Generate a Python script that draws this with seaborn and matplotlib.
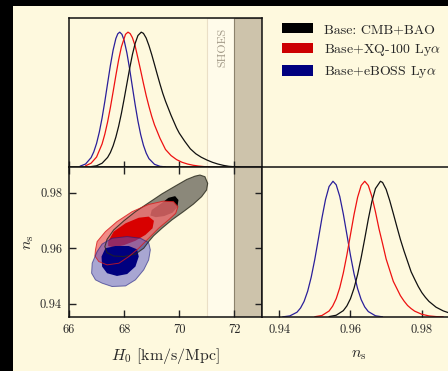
import matplotlib
matplotlib.use("Agg")
import matplotlib.pyplot as plt
from matplotlib.patches import Rectangle
import seaborn as sns

# ---------------- data ----------------
labels = ["Base: CMB+BAO", r"Base+XQ-100 Ly$\alpha$", r"Base+eBOSS Ly$\alpha$"]
h0_ticks = [66, 68, 70, 72]
ns_ticks = [0.94, 0.96, 0.98]
h0_ticklabels = ["66", "68", "70", "72"]
ns_ticklabels = ["0.94", "0.96", "0.98"]

# 1D posteriors H0
h0_black_x = [66.8, 67.0, 67.2, 67.4, 67.5, 67.6, 67.7, 67.8, 67.9, 68.0, 68.1, 68.2, 68.3, 68.4, 68.5,
              68.62, 68.7, 68.8, 68.9, 69.0, 69.1, 69.2, 69.3, 69.4, 69.5, 69.6, 69.7, 69.8, 69.9, 70.0,
              70.2, 70.4, 70.6, 70.8, 71.0, 71.2, 71.4, 71.6, 71.8, 72.0, 72.2]
h0_black_y = [0.003, 0.009, 0.028, 0.071, 0.107, 0.157, 0.222, 0.302, 0.397, 0.505, 0.618, 0.731, 0.834,
              0.917, 0.975, 1.0, 0.991, 0.956, 0.900, 0.834, 0.761, 0.687, 0.615, 0.547, 0.488, 0.436,
              0.384, 0.337, 0.29, 0.251, 0.19, 0.135, 0.098, 0.072, 0.052, 0.035, 0.022, 0.012, 0.005,
              0.002, 0.0]
h0_red_x = [66.6, 66.8, 67.0, 67.2, 67.3, 67.4, 67.5, 67.6, 67.7, 67.8, 67.9, 68.05, 68.14, 68.22, 68.3,
            68.4, 68.5, 68.6, 68.7, 68.8, 68.9, 69.0, 69.1, 69.3, 69.5, 69.7, 69.9, 70.1, 70.3, 70.5,
            70.7, 70.9, 71.1]
h0_red_y = [0.009, 0.028, 0.074, 0.171, 0.244, 0.334, 0.44, 0.558, 0.679, 0.794, 0.891, 0.984, 1.0, 0.989,
            0.959, 0.897, 0.807, 0.715, 0.62, 0.529, 0.449, 0.376, 0.313, 0.213, 0.13, 0.085, 0.055,
            0.035, 0.022, 0.013, 0.007, 0.003, 0.001]
h0_blue_x = [66.4, 66.6, 66.8, 66.9, 67.0, 67.1, 67.2, 67.3, 67.4, 67.5, 67.6, 67.7, 67.77, 67.84, 67.92,
             68.0, 68.1, 68.2, 68.3, 68.4, 68.5, 68.6, 68.7, 68.8, 68.9, 69.1, 69.3, 69.5]
h0_blue_y = [0.006, 0.022, 0.069, 0.113, 0.175, 0.259, 0.364, 0.487, 0.62, 0.752, 0.867, 0.953, 0.988,
             1.0, 0.984, 0.939, 0.846, 0.726, 0.593, 0.461, 0.341, 0.240, 0.161, 0.103, 0.062, 0.02,
             0.005, 0.001]

# 1D posteriors ns
ns_black_x = [0.954, 0.956, 0.958, 0.959, 0.960, 0.961, 0.962, 0.963, 0.964, 0.965, 0.966, 0.967, 0.9684,
              0.969, 0.970, 0.971, 0.972, 0.973, 0.974, 0.975, 0.976, 0.977, 0.978, 0.979, 0.980, 0.981,
              0.982, 0.984, 0.986, 0.988, 0.990]
ns_black_y = [0.003, 0.013, 0.047, 0.082, 0.135, 0.212, 0.313, 0.438, 0.577, 0.721, 0.85, 0.946, 1.0,
              0.991, 0.94, 0.858, 0.763, 0.666, 0.571, 0.487, 0.41, 0.333, 0.278, 0.225, 0.18, 0.145,
              0.115, 0.072, 0.045, 0.027, 0.016]
ns_red_x = [0.950, 0.952, 0.954, 0.955, 0.956, 0.957, 0.958, 0.959, 0.960, 0.961, 0.962, 0.963, 0.964,
            0.965, 0.966, 0.967, 0.968, 0.969, 0.970, 0.971, 0.972, 0.973, 0.974, 0.975, 0.976, 0.977,
            0.978, 0.980, 0.982, 0.984, 0.986]
ns_red_y = [0.002, 0.011, 0.044, 0.080, 0.135, 0.216, 0.325, 0.458, 0.607, 0.755, 0.882, 0.969, 1.0,
            0.969, 0.888, 0.775, 0.649, 0.54, 0.427, 0.345, 0.263, 0.21, 0.157, 0.118, 0.085, 0.062,
            0.043, 0.02, 0.008, 0.003, 0.001]
ns_blue_x = [0.941, 0.943, 0.945, 0.946, 0.947, 0.948, 0.949, 0.950, 0.951, 0.952, 0.953, 0.954, 0.9551,
             0.956, 0.957, 0.958, 0.959, 0.960, 0.961, 0.962, 0.963, 0.964, 0.965, 0.967, 0.969]
ns_blue_y = [0.001, 0.008, 0.035, 0.066, 0.115, 0.19, 0.294, 0.425, 0.575, 0.729, 0.865, 0.961, 1.0,
             0.974, 0.888, 0.758, 0.607, 0.454, 0.318, 0.209, 0.128, 0.074, 0.04, 0.009, 0.001]

# 2D contours (H0, ns)
black2_h0 = [70.75, 70.93, 71.03, 70.99, 70.81, 70.51, 70.15, 69.73, 69.37, 69.07, 68.89, 68.71, 68.41,
             67.99, 67.62, 67.38, 67.30, 67.38, 67.62, 67.99, 68.41, 68.89, 69.37, 69.85, 70.27, 70.57]
black2_ns = [0.9864, 0.9858, 0.9834, 0.9810, 0.9786, 0.9759, 0.9732, 0.9702, 0.9672, 0.9645, 0.9624,
             0.9600, 0.9579, 0.9570, 0.9572, 0.9584, 0.9606, 0.9632, 0.9666, 0.9699, 0.9732, 0.9764,
             0.9796, 0.9824, 0.9848, 0.9860]
black1_h0 = [69.0, 69.35, 69.61, 69.85, 69.97, 69.93, 69.75, 69.45, 69.15, 68.95]
black1_ns = [0.9738, 0.9762, 0.9782, 0.9788, 0.9774, 0.9748, 0.9728, 0.9716, 0.9712, 0.9718]
red2_h0 = [66.94, 66.96, 67.02, 67.32, 67.74, 68.29, 68.89, 69.43, 69.79, 69.95, 69.87, 69.61, 69.25,
           68.89, 68.53, 68.17, 67.81, 67.38, 67.08]
red2_ns = [0.9572, 0.9594, 0.9624, 0.9660, 0.9696, 0.9732, 0.9758, 0.9770, 0.9768, 0.9750, 0.9726,
           0.9702, 0.9672, 0.9636, 0.9600, 0.9570, 0.9546, 0.9540, 0.9552]
red1_h0 = [67.42, 67.62, 68.05, 68.53, 68.89, 69.08, 69.03, 68.77, 68.41, 67.99, 67.62, 67.42]
red1_ns = [0.9624, 0.9660, 0.9690, 0.9710, 0.9714, 0.9699, 0.9672, 0.9648, 0.9627, 0.9611, 0.9603, 0.9608]
blue2_h0 = [67.56, 68.11, 68.59, 68.89, 68.95, 68.89, 68.71, 68.41, 68.05, 67.56, 67.20, 66.96, 66.82,
            66.84, 67.02, 67.20]
blue2_ns = [0.9636, 0.9642, 0.9636, 0.9620, 0.9594, 0.9558, 0.9522, 0.9486, 0.9464, 0.9462, 0.9474,
            0.9486, 0.9510, 0.9546, 0.9588, 0.9615]
blue1_h0 = [67.32, 67.68, 68.17, 68.47, 68.53, 68.41, 68.11, 67.74, 67.38, 67.20, 67.18]
blue1_ns = [0.9600, 0.9608, 0.9608, 0.9596, 0.9570, 0.9534, 0.9507, 0.9500, 0.9510, 0.9534, 0.9570]

shoes_band = [71.0, 72.0, 73.0]

# ---------------- style ----------------
sns.set_style("ticks")
plt.rcParams["font.family"] = ["cmr10", "DejaVu Serif"]
plt.rcParams["mathtext.fontset"] = "cm"
plt.rcParams["axes.formatter.use_mathtext"] = True

CREAM = "#fef9de"
h0_lim = (66, 73)
ns_lim = (0.9352, 0.9893)
ytop = 1.105

fig = plt.figure(figsize=(4.48, 3.71), dpi=100, facecolor="black")
fig.patches.append(Rectangle((13 / 448, 0), 1, 1 - 6 / 371, transform=fig.transFigure,
                             facecolor=CREAM, edgecolor="none", zorder=-10))

W, H = 448.0, 371.0
def pos(x0, y0, x1, y1):
    return [x0 / W, 1 - y1 / H, (x1 - x0) / W, (y1 - y0) / H]

ax_top = fig.add_axes(pos(69, 18, 262, 167))
ax_2d = fig.add_axes(pos(69, 167, 262, 317))
ax_ns = fig.add_axes(pos(262, 167, 455, 317))

for ax in (ax_top, ax_2d, ax_ns):
    ax.set_facecolor(CREAM)
    for s in ax.spines.values():
        s.set_linewidth(1.1)
        s.set_color("#111111")
        s.set_visible(True)

# SHOES bands
for ax in (ax_top, ax_2d):
    ax.axvspan(shoes_band[0], shoes_band[1], facecolor="#fffbea", edgecolor="#eadfc6", lw=0.8, zorder=0)
    ax.axvspan(shoes_band[1], shoes_band[2], facecolor="#cdc3ab", edgecolor="#8c826c", lw=0.8, zorder=0)

# top 1D H0
for xs, ys, c in [(h0_blue_x, h0_blue_y, "#2a1f9a"), (h0_red_x, h0_red_y, "#ee1111"),
                  (h0_black_x, h0_black_y, "#111111")]:
    sns.lineplot(x=xs, y=ys, ax=ax_top, color=c, lw=0.9, sort=False)
ax_top.set_xlim(*h0_lim)
ax_top.set_ylim(0, ytop)
ax_top.set_yticks([])
ax_top.set_xticks(h0_ticks)
ax_top.set_xticklabels([])
ax_top.tick_params(axis="x", direction="inout", length=9, width=1.0, color="#222222")
ax_top.text(71.56, 0.805, "SHOES", rotation=90, ha="center", va="center", fontsize=8.5,
            color="#a39a88", transform=ax_top.get_xaxis_transform())

# 2D contours
ax_2d.fill(black2_h0, black2_ns, facecolor=(0, 0, 0, 0.45), edgecolor="none", zorder=2)
ax_2d.fill(black1_h0, black1_ns, facecolor="black", edgecolor="none", zorder=2)
ax_2d.fill(red2_h0, red2_ns, facecolor=(0.94, 0.44, 0.44, 0.8), edgecolor="none", zorder=3)
ax_2d.fill(red1_h0, red1_ns, facecolor="#d80000", edgecolor="none", zorder=3)
ax_2d.fill(blue2_h0, blue2_ns, facecolor=(0.33, 0.33, 0.78, 0.5), edgecolor="none", zorder=4)
ax_2d.fill(blue1_h0, blue1_ns, facecolor="#00007f", edgecolor="none", zorder=4)
ax_2d.fill(black2_h0, black2_ns, facecolor="none", edgecolor=(0.15, 0.15, 0.1, 0.8), lw=0.8, zorder=5)
ax_2d.fill(red2_h0, red2_ns, facecolor="none", edgecolor=(0.85, 0.1, 0.1, 0.8), lw=0.7, zorder=5)
ax_2d.fill(blue2_h0, blue2_ns, facecolor="none", edgecolor=(0.1, 0.1, 0.5, 0.6), lw=0.7, zorder=5)
ax_2d.set_xlim(*h0_lim)
ax_2d.set_ylim(*ns_lim)
ax_2d.set_xticks(h0_ticks)
ax_2d.set_xticklabels(h0_ticklabels)
ax_2d.set_yticks(ns_ticks)
ax_2d.set_yticklabels(ns_ticklabels)
ax_2d.tick_params(direction="in", length=5, width=1.0, labelsize=9, top=True, right=True,
                  pad=5, color="#222222")
ax_2d.set_xlabel(r"$H_0$ [km/s/Mpc]", fontsize=11.5, labelpad=7)
ax_2d.set_ylabel(r"$n_{\rm s}$", fontsize=11.5, labelpad=3)

# right 1D ns
for xs, ys, c in [(ns_blue_x, ns_blue_y, "#2a1f9a"), (ns_red_x, ns_red_y, "#ee1111"),
                  (ns_black_x, ns_black_y, "#111111")]:
    sns.lineplot(x=xs, y=ys, ax=ax_ns, color=c, lw=0.9, sort=False)
ax_ns.set_xlim(*ns_lim)
ax_ns.set_ylim(0, ytop)
ax_ns.set_yticks([])
ax_ns.set_xticks(ns_ticks)
ax_ns.set_xticklabels(ns_ticklabels)
ax_ns.tick_params(axis="x", direction="in", length=5, width=1.0, labelsize=9, pad=5, color="#222222")
ax_ns.set_xlabel(r"$n_{\rm s}$", fontsize=11.5, labelpad=9)

# legend
handles = [Rectangle((0, 0), 1, 1, facecolor=c, edgecolor="none") for c in ["#000000", "#cc0000", "#00007f"]]
fig.legend(handles, labels, loc="upper left", bbox_to_anchor=(282 / W, 1 - 23 / H), frameon=False,
           fontsize=10, handlelength=2.25, handleheight=0.75, handletextpad=0.8, labelspacing=0.45,
           borderpad=0, borderaxespad=0)

fig.savefig("out.png", dpi=100, facecolor=fig.get_facecolor())
